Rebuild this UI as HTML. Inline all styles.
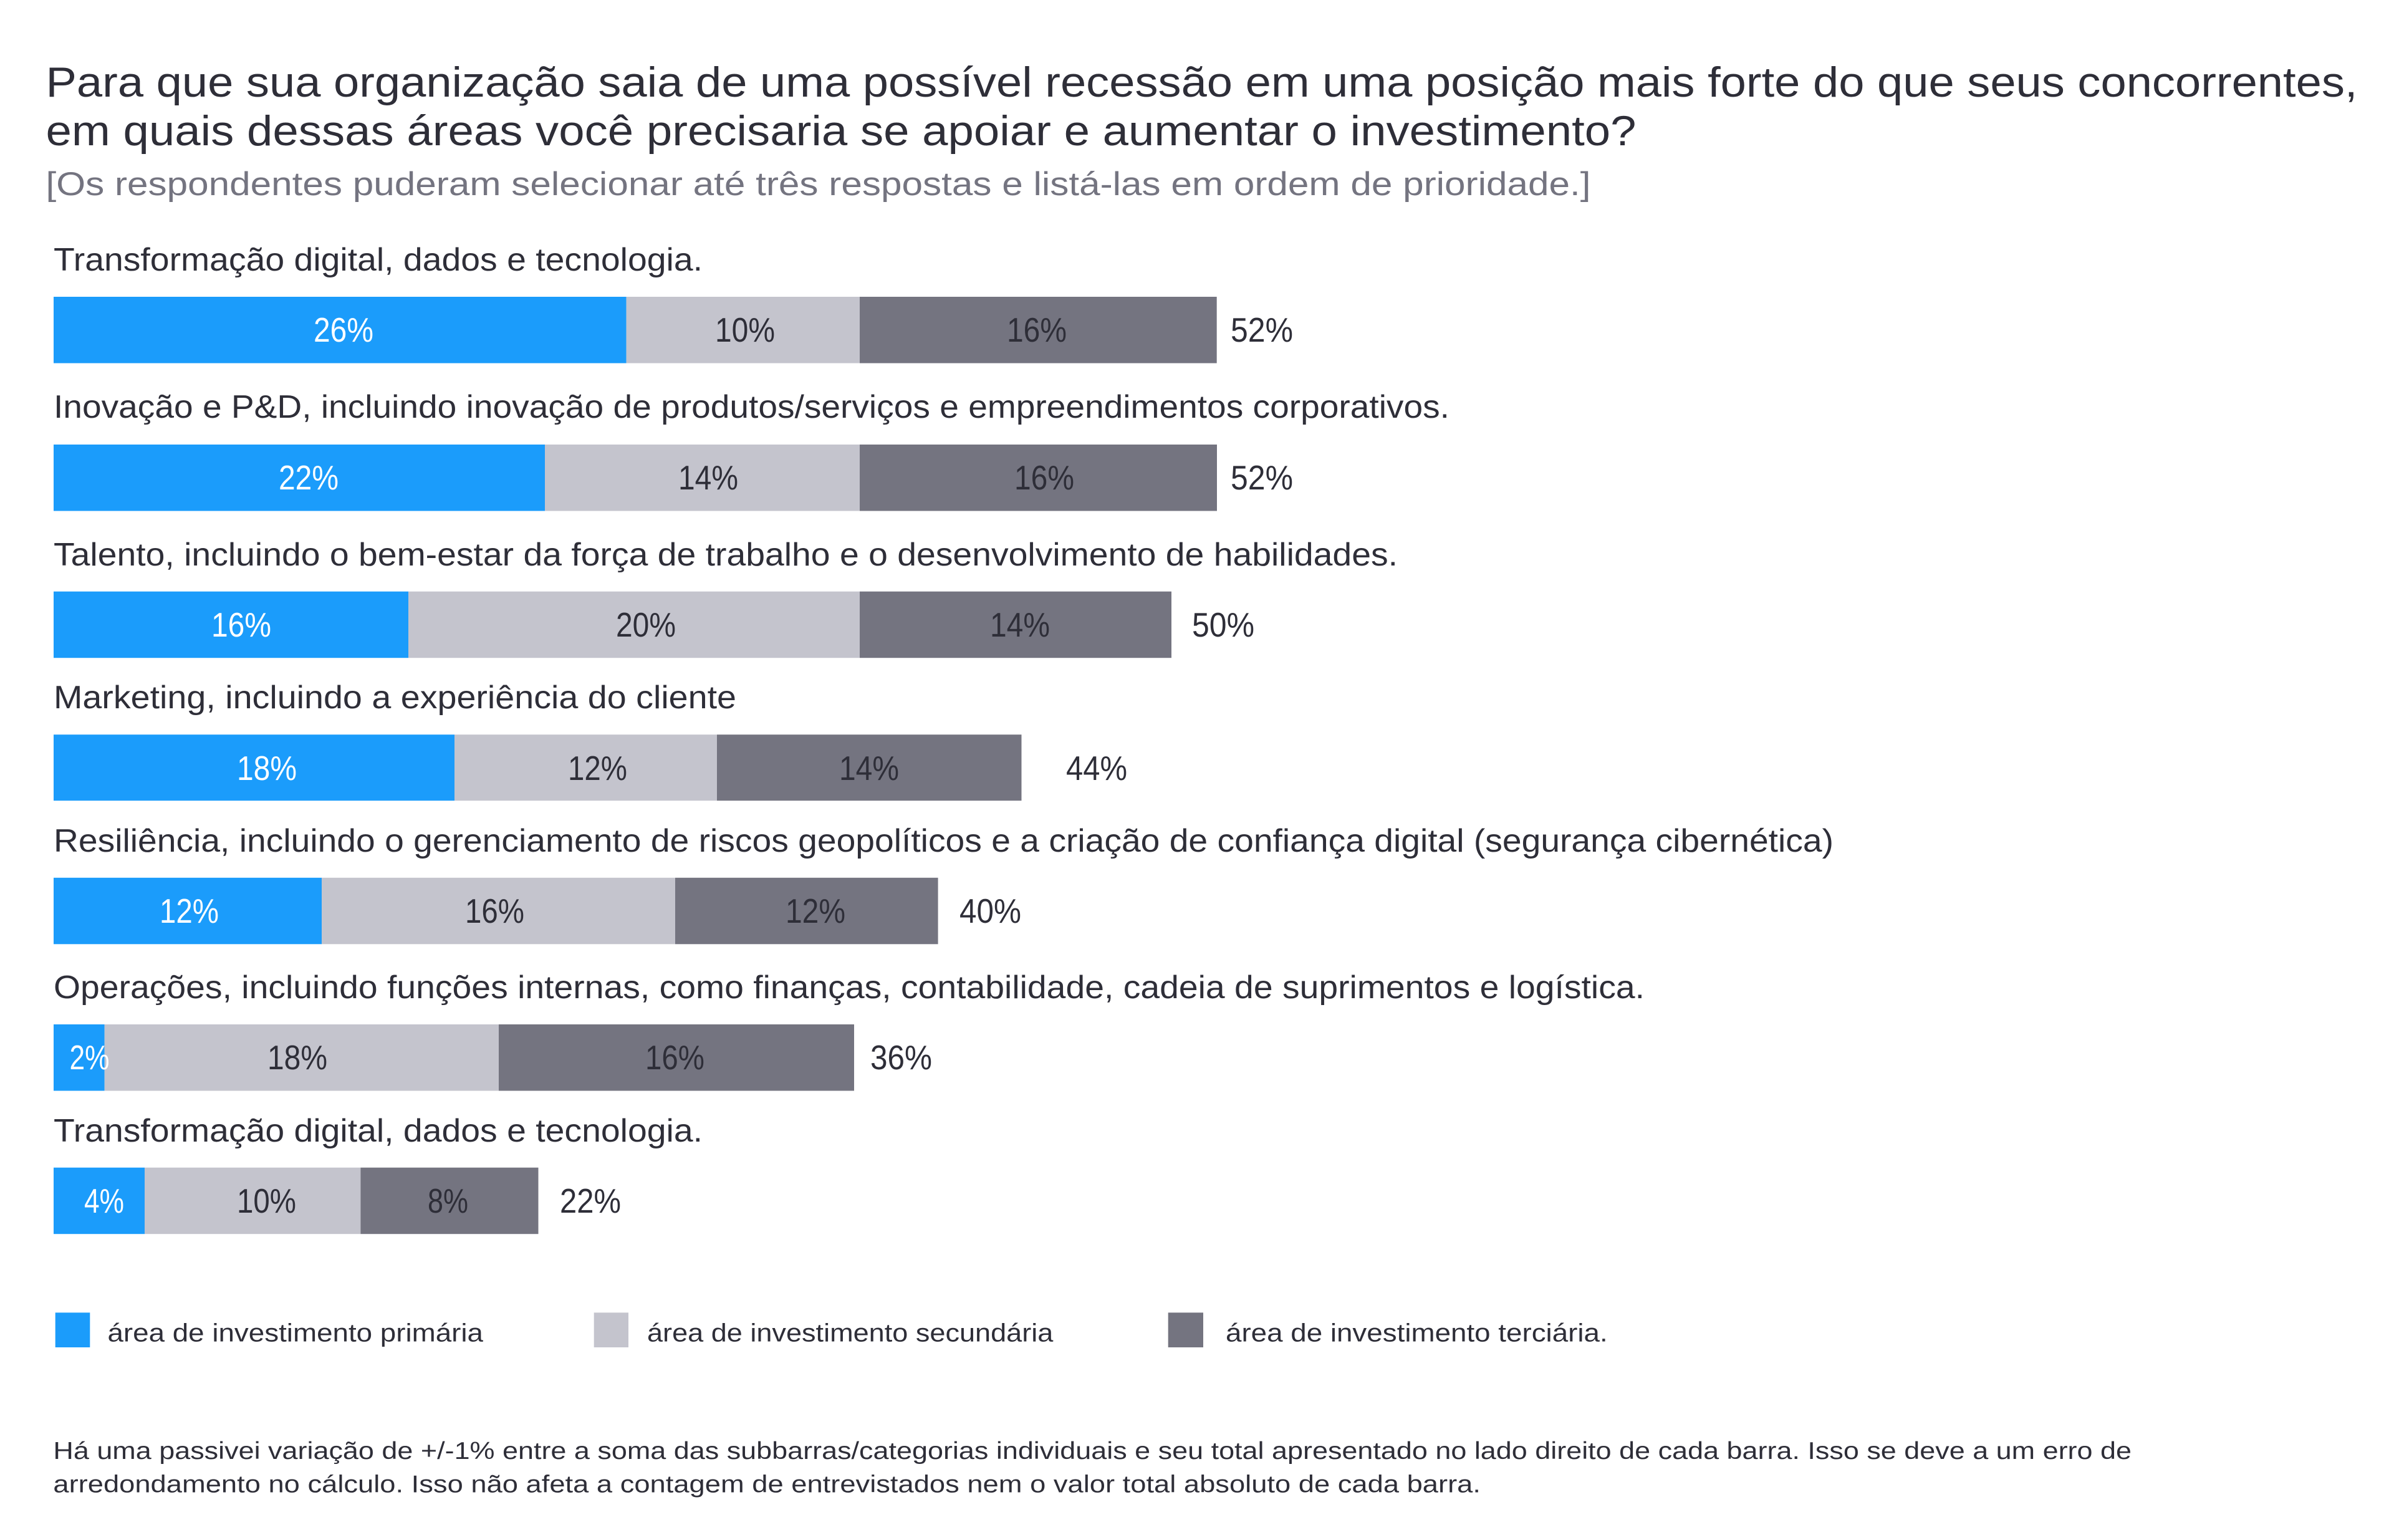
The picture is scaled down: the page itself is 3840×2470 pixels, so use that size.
<!DOCTYPE html>
<html>
<head>
<meta charset="utf-8">
<style>
  html, body { margin: 0; padding: 0; background: #ffffff; }
  svg { display: block; }
  text { font-family: "Liberation Sans", "DejaVu Sans", sans-serif; }
</style>
</head>
<body>
<svg xmlns="http://www.w3.org/2000/svg" width="3840" height="2470" viewBox="0 0 3840 2470">
  <rect x="0" y="0" width="3840" height="2470" fill="#ffffff"/>

  <!-- Title -->
  <g fill="#2e2e38" font-size="68">
    <text x="73.5" y="155" textLength="3708" lengthAdjust="spacingAndGlyphs">Para que sua organização saia de uma possível recessão em uma posição mais forte do que seus concorrentes,</text>
    <text x="73.5" y="233" textLength="2551" lengthAdjust="spacingAndGlyphs">em quais dessas áreas você precisaria se apoiar e aumentar o investimento?</text>
  </g>
  <text x="73.5" y="313" fill="#747480" font-size="53" textLength="2478" lengthAdjust="spacingAndGlyphs">[Os respondentes puderam selecionar até três respostas e listá-las em ordem de prioridade.]</text>

  <!-- Category labels -->
  <g fill="#2e2e38" font-size="52">
    <text x="86" y="434" textLength="1041" lengthAdjust="spacingAndGlyphs">Transformação digital, dados e tecnologia.</text>
    <text x="86" y="670" textLength="2239" lengthAdjust="spacingAndGlyphs">Inovação e P&amp;D, incluindo inovação de produtos/serviços e empreendimentos corporativos.</text>
    <text x="86" y="907" textLength="2156" lengthAdjust="spacingAndGlyphs">Talento, incluindo o bem-estar da força de trabalho e o desenvolvimento de habilidades.</text>
    <text x="86" y="1136" textLength="1095" lengthAdjust="spacingAndGlyphs">Marketing, incluindo a experiência do cliente</text>
    <text x="86" y="1366" textLength="2855" lengthAdjust="spacingAndGlyphs">Resiliência, incluindo o gerenciamento de riscos geopolíticos e a criação de confiança digital (segurança cibernética)</text>
    <text x="86" y="1601" textLength="2552" lengthAdjust="spacingAndGlyphs">Operações, incluindo funções internas, como finanças, contabilidade, cadeia de suprimentos e logística.</text>
    <text x="86" y="1831" textLength="1041" lengthAdjust="spacingAndGlyphs">Transformação digital, dados e tecnologia.</text>
  </g>

  <!-- Bars -->
  <!-- Bar 1 -->
  <rect x="86" y="476" width="918.6" height="106.5" fill="#1b9cfb"/>
  <rect x="1004.6" y="476" width="374.4" height="106.5" fill="#c4c4cd"/>
  <rect x="1379" y="476" width="572.7" height="106.5" fill="#747480"/>
  <!-- Bar 2 -->
  <rect x="86" y="713" width="788" height="106.5" fill="#1b9cfb"/>
  <rect x="874" y="713" width="505" height="106.5" fill="#c4c4cd"/>
  <rect x="1379" y="713" width="573" height="106.5" fill="#747480"/>
  <!-- Bar 3 -->
  <rect x="86" y="948.7" width="569" height="106.5" fill="#1b9cfb"/>
  <rect x="655" y="948.7" width="724" height="106.5" fill="#c4c4cd"/>
  <rect x="1379" y="948.7" width="500" height="106.5" fill="#747480"/>
  <!-- Bar 4 -->
  <rect x="86" y="1178.2" width="643" height="106" fill="#1b9cfb"/>
  <rect x="729" y="1178.2" width="421" height="106" fill="#c4c4cd"/>
  <rect x="1150" y="1178.2" width="488.5" height="106" fill="#747480"/>
  <!-- Bar 5 -->
  <rect x="86" y="1407.8" width="430" height="106.5" fill="#1b9cfb"/>
  <rect x="516" y="1407.8" width="567" height="106.5" fill="#c4c4cd"/>
  <rect x="1083" y="1407.8" width="421.6" height="106.5" fill="#747480"/>
  <!-- Bar 6 -->
  <rect x="86" y="1643" width="81.7" height="106.5" fill="#1b9cfb"/>
  <rect x="167.7" y="1643" width="632.3" height="106.5" fill="#c4c4cd"/>
  <rect x="800" y="1643" width="570" height="106.5" fill="#747480"/>
  <!-- Bar 7 -->
  <rect x="86" y="1872.7" width="146" height="106.5" fill="#1b9cfb"/>
  <rect x="232" y="1872.7" width="346.4" height="106.5" fill="#c4c4cd"/>
  <rect x="578.4" y="1872.7" width="285.1" height="106.5" fill="#747480"/>

  <!-- Value labels -->
  <g font-size="55">
    <!-- Bar 1 -->
    <text x="503" y="548" fill="#ffffff" textLength="96" lengthAdjust="spacingAndGlyphs">26%</text>
    <text x="1147" y="548" fill="#2e2e38" textLength="96" lengthAdjust="spacingAndGlyphs">10%</text>
    <text x="1615" y="548" fill="#2e2e38" textLength="96" lengthAdjust="spacingAndGlyphs">16%</text>
    <text x="1974" y="548" fill="#2e2e38" textLength="100" lengthAdjust="spacingAndGlyphs">52%</text>
    <!-- Bar 2 -->
    <text x="447" y="785" fill="#ffffff" textLength="96" lengthAdjust="spacingAndGlyphs">22%</text>
    <text x="1088" y="785" fill="#2e2e38" textLength="96" lengthAdjust="spacingAndGlyphs">14%</text>
    <text x="1627" y="785" fill="#2e2e38" textLength="96" lengthAdjust="spacingAndGlyphs">16%</text>
    <text x="1974" y="785" fill="#2e2e38" textLength="100" lengthAdjust="spacingAndGlyphs">52%</text>
    <!-- Bar 3 -->
    <text x="339" y="1021" fill="#ffffff" textLength="96" lengthAdjust="spacingAndGlyphs">16%</text>
    <text x="988" y="1021" fill="#2e2e38" textLength="96" lengthAdjust="spacingAndGlyphs">20%</text>
    <text x="1588" y="1021" fill="#2e2e38" textLength="96" lengthAdjust="spacingAndGlyphs">14%</text>
    <text x="1912" y="1021" fill="#2e2e38" textLength="100" lengthAdjust="spacingAndGlyphs">50%</text>
    <!-- Bar 4 -->
    <text x="380" y="1251" fill="#ffffff" textLength="96" lengthAdjust="spacingAndGlyphs">18%</text>
    <text x="911" y="1251" fill="#2e2e38" textLength="95" lengthAdjust="spacingAndGlyphs">12%</text>
    <text x="1346" y="1251" fill="#2e2e38" textLength="96" lengthAdjust="spacingAndGlyphs">14%</text>
    <text x="1710" y="1251" fill="#2e2e38" textLength="98" lengthAdjust="spacingAndGlyphs">44%</text>
    <!-- Bar 5 -->
    <text x="256" y="1480" fill="#ffffff" textLength="95" lengthAdjust="spacingAndGlyphs">12%</text>
    <text x="746" y="1480" fill="#2e2e38" textLength="95" lengthAdjust="spacingAndGlyphs">16%</text>
    <text x="1260" y="1480" fill="#2e2e38" textLength="96" lengthAdjust="spacingAndGlyphs">12%</text>
    <text x="1539" y="1480" fill="#2e2e38" textLength="99" lengthAdjust="spacingAndGlyphs">40%</text>
    <!-- Bar 6 -->
    <text x="111.5" y="1715" fill="#ffffff" textLength="64" lengthAdjust="spacingAndGlyphs">2%</text>
    <text x="429" y="1715" fill="#2e2e38" textLength="96" lengthAdjust="spacingAndGlyphs">18%</text>
    <text x="1035" y="1715" fill="#2e2e38" textLength="95" lengthAdjust="spacingAndGlyphs">16%</text>
    <text x="1396" y="1715" fill="#2e2e38" textLength="99" lengthAdjust="spacingAndGlyphs">36%</text>
    <!-- Bar 7 -->
    <text x="135" y="1945" fill="#ffffff" textLength="64" lengthAdjust="spacingAndGlyphs">4%</text>
    <text x="380" y="1945" fill="#2e2e38" textLength="95" lengthAdjust="spacingAndGlyphs">10%</text>
    <text x="686" y="1945" fill="#2e2e38" textLength="65" lengthAdjust="spacingAndGlyphs">8%</text>
    <text x="898" y="1945" fill="#2e2e38" textLength="98" lengthAdjust="spacingAndGlyphs">22%</text>
  </g>

  <!-- Legend -->
  <rect x="88.7" y="2105.3" width="55.6" height="55.7" fill="#1b9cfb"/>
  <rect x="952.7" y="2105.3" width="55.3" height="55.7" fill="#c4c4cd"/>
  <rect x="1873.7" y="2105.3" width="56.3" height="55.7" fill="#747480"/>
  <g fill="#2e2e38" font-size="41">
    <text x="172.5" y="2151.7" textLength="602.5" lengthAdjust="spacingAndGlyphs">área de investimento primária</text>
    <text x="1038" y="2151.7" textLength="651.3" lengthAdjust="spacingAndGlyphs">área de investimento secundária</text>
    <text x="1966" y="2151.7" textLength="612.7" lengthAdjust="spacingAndGlyphs">área de investimento terciária.</text>
  </g>

  <!-- Footnote -->
  <g fill="#2e2e38" font-size="39">
    <text x="85.4" y="2340" textLength="3333.6" lengthAdjust="spacingAndGlyphs">Há uma passivei variação de +/-1% entre a soma das subbarras/categorias individuais e seu total apresentado no lado direito de cada barra. Isso se deve a um erro de</text>
    <text x="85.4" y="2393.3" textLength="2289.6" lengthAdjust="spacingAndGlyphs">arredondamento no cálculo. Isso não afeta a contagem de entrevistados nem o valor total absoluto de cada barra.</text>
  </g>
</svg>
</body>
</html>
